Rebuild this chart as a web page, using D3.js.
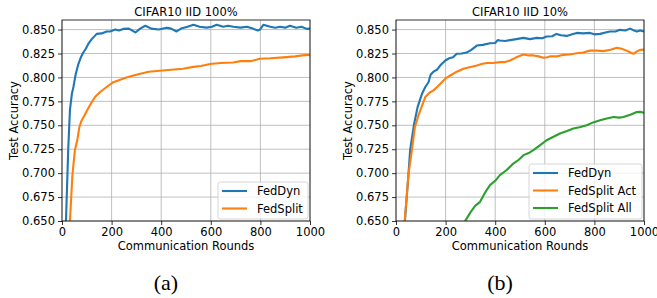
<!DOCTYPE html>
<html>
<head>
<meta charset="utf-8">
<script src="https://cdn.jsdelivr.net/npm/d3@7"></script>
<style>
  body { margin: 0; background: #fff; }
  svg text { font-family: "DejaVu Sans", sans-serif; }
</style>
</head>
<body>
<svg id="chart" width="657" height="298"></svg>
<script>
// rounds / accuracy pairs
const dyn100 = [[0,0.42],[10,0.58],[16,0.65],[25,0.724],[32,0.766],[40,0.783],[46,0.790],[55,0.803],[66,0.814],[76,0.821],[86,0.826],[96,0.830],[106,0.835],[120,0.840],[140,0.8455],[160,0.846],[180,0.848],[194,0.848],[215,0.850],[230,0.849],[247,0.8507],[270,0.851],[296,0.847],[315,0.851],[336,0.854],[360,0.851],[390,0.850],[422,0.852],[440,0.851],[462,0.848],[480,0.851],[503,0.8528],[530,0.855],[555,0.853],[583,0.852],[605,0.853],[624,0.855],[650,0.853],[670,0.854],[691,0.853],[720,0.852],[745,0.853],[770,0.851],[790,0.849],[798,0.850],[812,0.855],[840,0.853],[860,0.852],[879,0.853],[900,0.852],[919,0.854],[945,0.852],[965,0.853],[987,0.8507],[1000,0.851]];
const split100 = [[0,0.45],[20,0.60],[32,0.65],[42,0.698],[52,0.724],[62,0.735],[70,0.748],[79,0.755],[90,0.760],[102,0.766],[115,0.772],[133,0.7795],[155,0.785],[180,0.790],[207,0.795],[240,0.798],[260,0.800],[288,0.802],[320,0.804],[350,0.806],[395,0.807],[440,0.808],[488,0.809],[530,0.811],[560,0.812],[597,0.814],[640,0.815],[690,0.8156],[720,0.817],[760,0.817],[798,0.8195],[840,0.820],[893,0.821],[940,0.822],[970,0.823],[993,0.8236],[1000,0.823]];

const dyn10 = [[0,0.40],[20,0.55],[36,0.65],[50,0.698],[57,0.724],[72,0.750],[87,0.769],[105,0.783],[118,0.790],[131,0.795],[140,0.803],[151,0.806],[165,0.808],[180,0.813],[199,0.8177],[215,0.820],[230,0.821],[245,0.8247],[265,0.825],[285,0.826],[305,0.829],[326,0.8333],[350,0.834],[379,0.8357],[400,0.836],[410,0.839],[419,0.8385],[440,0.838],[460,0.839],[485,0.840],[514,0.8413],[540,0.840],[568,0.8413],[590,0.841],[607,0.8427],[630,0.843],[647,0.8455],[665,0.844],[689,0.8434],[710,0.845],[729,0.8465],[755,0.846],[782,0.8465],[800,0.845],[823,0.8455],[845,0.847],[863,0.848],[885,0.848],[903,0.8497],[925,0.849],[944,0.851],[960,0.849],[971,0.848],[985,0.849],[1000,0.848]];
const splitAct10 = [[0,0.40],[20,0.56],[35,0.65],[50,0.698],[64,0.724],[76,0.748],[90,0.760],[98,0.7656],[118,0.7795],[135,0.784],[151,0.7865],[170,0.791],[185,0.795],[200,0.799],[219,0.802],[245,0.806],[272,0.809],[300,0.811],[326,0.8125],[345,0.814],[366,0.815],[390,0.815],[420,0.816],[440,0.816],[460,0.8177],[485,0.821],[514,0.824],[535,0.823],[554,0.823],[575,0.822],[594,0.8205],[610,0.821],[621,0.822],[650,0.822],[675,0.8236],[700,0.824],[729,0.8253],[755,0.826],[782,0.828],[810,0.828],[836,0.8275],[865,0.829],[890,0.831],[910,0.830],[930,0.828],[945,0.826],[957,0.8247],[970,0.827],[984,0.8288],[1000,0.829]];
const splitAll10 = [[250,0.635],[279,0.65],[300,0.659],[320,0.666],[339,0.670],[360,0.680],[379,0.6875],[400,0.692],[419,0.698],[445,0.703],[473,0.710],[495,0.714],[514,0.7188],[535,0.721],[554,0.724],[580,0.729],[607,0.7344],[635,0.738],[661,0.7414],[690,0.744],[715,0.7466],[740,0.748],[769,0.750],[795,0.753],[823,0.7552],[850,0.757],[877,0.7586],[900,0.758],[917,0.7586],[945,0.761],[971,0.7638],[985,0.764],[1000,0.763]];

const xTicks = [0, 200, 400, 600, 800, 1000];
const yTicks = [0.650, 0.675, 0.700, 0.725, 0.750, 0.775, 0.800, 0.825, 0.850];

const panels = [
    { left: 62, right: 310, title: "CIFAR10 IID 100%", tag: "(a)",
      series: [{ name: "FedDyn", data: dyn100, color: "#1f77b4" },
               { name: "FedSplit", data: split100, color: "#ff7f0e" }],
      legend: { x: 218, y: 182, w: 90, h: 37 } },
    { left: 396, right: 644, title: "CIFAR10 IID 10%", tag: "(b)",
      series: [{ name: "FedDyn", data: dyn10, color: "#1f77b4" },
               { name: "FedSplit Act", data: splitAct10, color: "#ff7f0e" },
               { name: "FedSplit All", data: splitAll10, color: "#2ca02c" }],
      legend: { x: 529, y: 164, w: 113, h: 55 } }
];

const svg = d3.select("#chart");
const plotTop = 20, plotBottom = 221;
const fs = 11.5;

panels.forEach(function(p, i) {
    const x = d3.scaleLinear().domain([0, 1000]).range([p.left, p.right]);
    const y = d3.scaleLinear().domain([0.65, 0.86]).range([plotBottom, plotTop]);
    const g = svg.append("g");

    // grid
    g.selectAll(".gx").data(xTicks).enter().append("line")
        .attr("x1", d => x(d)).attr("x2", d => x(d))
        .attr("y1", plotTop).attr("y2", plotBottom)
        .attr("stroke", "#b0b0b0").attr("stroke-width", 0.8);
    g.selectAll(".gy").data(yTicks).enter().append("line")
        .attr("x1", p.left).attr("x2", p.right)
        .attr("y1", d => y(d)).attr("y2", d => y(d))
        .attr("stroke", "#b0b0b0").attr("stroke-width", 0.8);

    const clipId = "clip" + i;
    svg.append("clipPath").attr("id", clipId).append("rect")
        .attr("x", p.left).attr("y", plotTop)
        .attr("width", p.right - p.left).attr("height", plotBottom - plotTop);

    const line = d3.line().x(d => x(d[0])).y(d => y(d[1]));
    p.series.forEach(function(s) {
        g.append("path")
            .datum(s.data)
            .attr("clip-path", "url(#" + clipId + ")")
            .attr("fill", "none")
            .attr("stroke", s.color)
            .attr("stroke-width", 2.1)
            .attr("stroke-linejoin", "round")
            .attr("d", line);
    });

    // axes
    const ax = g.append("g")
        .attr("transform", "translate(0," + plotBottom + ")")
        .call(d3.axisBottom(x).tickValues(xTicks).tickFormat(d3.format("d")).tickSize(4).tickPadding(3));
    const ay = g.append("g")
        .attr("transform", "translate(" + p.left + ",0)")
        .call(d3.axisLeft(y).tickValues(yTicks).tickFormat(d3.format(".3f")).tickSize(4).tickPadding(3));
    [ax, ay].forEach(function(a) {
        a.select(".domain").remove();
        a.selectAll("text").attr("font-size", fs).attr("fill", "#000")
            .style("font-family", "DejaVu Sans");
        a.selectAll("line").attr("stroke", "#000").attr("stroke-width", 0.8);
    });

    // frame
    g.append("rect")
        .attr("x", p.left).attr("y", plotTop)
        .attr("width", p.right - p.left).attr("height", plotBottom - plotTop)
        .attr("fill", "none").attr("stroke", "#000").attr("stroke-width", 0.8);

    const cx = (p.left + p.right) / 2;
    g.append("text").attr("x", cx).attr("y", 16)
        .attr("text-anchor", "middle").attr("font-size", fs).text(p.title);
    g.append("text").attr("x", cx).attr("y", 250)
        .attr("text-anchor", "middle").attr("font-size", fs).text("Communication Rounds");
    g.append("text")
        .attr("transform", "translate(" + (p.left - 44) + "," + ((plotTop + plotBottom) / 2) + ") rotate(-90)")
        .attr("text-anchor", "middle").attr("font-size", fs).text("Test Accuracy");
    g.append("text").attr("x", cx - 20).attr("y", 290)
        .attr("text-anchor", "middle").attr("font-size", 22)
        .style("font-family", "'Liberation Serif', serif").text(p.tag);

    // legend
    const L = p.legend;
    const lg = g.append("g");
    lg.append("rect")
        .attr("x", L.x).attr("y", L.y).attr("width", L.w).attr("height", L.h)
        .attr("rx", 2.5).attr("fill", "#fff").attr("fill-opacity", 0.8)
        .attr("stroke", "#cccccc").attr("stroke-width", 0.8);
    p.series.forEach(function(s, k) {
        const ly = L.y + 9 + k * 17.5;
        lg.append("line")
            .attr("x1", L.x + 4).attr("x2", L.x + 29)
            .attr("y1", ly).attr("y2", ly)
            .attr("stroke", s.color).attr("stroke-width", 2.1);
        lg.append("text").attr("x", L.x + 39).attr("y", ly + 4)
            .attr("font-size", fs).text(s.name);
    });
});
</script>
</body>
</html>
